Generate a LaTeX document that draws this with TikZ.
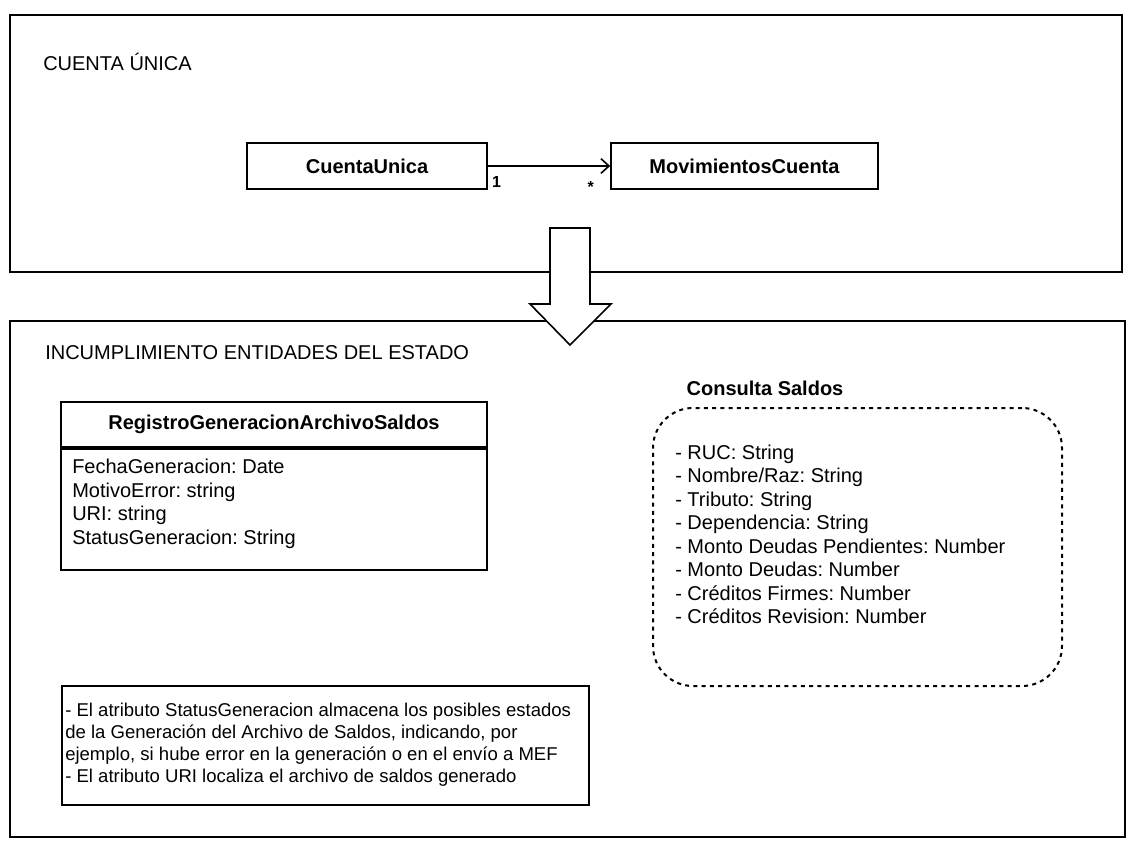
\documentclass[tikz,border=0pt]{standalone}
\usepackage{fontspec}
\setmainfont{Liberation Sans}
\usetikzlibrary{arrows.meta}
\frenchspacing
\tikzset{
  frame/.style={draw=black, line width=1.1pt, inner sep=0pt, fill=none},
  classbox/.style={draw=black, line width=1.3pt, inner sep=0pt, font=\fontsize{15}{17.6}\selectfont\bfseries},
  attrs/.style={inner sep=0pt, align=left, anchor=west, font=\fontsize{15}{17.6}\selectfont},
  titletext/.style={inner sep=0pt, anchor=west, font=\fontsize{15}{18}\selectfont},
  multlabel/.style={inner sep=0pt, font=\fontsize{12}{14}\selectfont\bfseries},
  assoc/.style={draw=black, line width=1.2pt, -{Straight Barb[length=6pt,width=11pt,line width=1.2pt]}},
  dashbox/.style={draw=black, line width=1.5pt, dash pattern=on 3pt off 3.2pt, rounded corners=30pt, inner sep=0pt},
  notebox/.style={draw=black, line width=1.1pt, inner sep=0pt},
  notetext/.style={inner sep=0pt, align=left, anchor=west, font=\fontsize{13.9}{16.5}\selectfont},
  blockarrow/.style={draw=black, line width=1.2pt, fill=white, line join=miter},
}
\begin{document}
\begin{tikzpicture}[x=0.75pt, y=-0.75pt]
\useasboundingbox (0,0) rectangle (1128,842);
\fill[white] (0,0) rectangle (1128,842);

% frames
\node[frame, minimum width=834pt, minimum height=192.75pt] (top) at (566,143.5) {};
\node[frame, minimum width=836.25pt, minimum height=387pt] (bottom) at (567.5,579) {};

% upper section
\node[titletext] (t1) at (43,62) {CUENTA ÚNICA};
\node[classbox, minimum width=180pt, minimum height=34.5pt] (cu) at (367,166) {CuentaUnica};
\node[classbox, minimum width=200.25pt, minimum height=34.5pt] (mc) at (744.5,166) {MovimientosCuenta};
\draw[assoc] (cu.east) -- (mc.west);
\node[multlabel, anchor=west] (m1) at ([xshift=3pt,yshift=-12pt]cu.east) {1};
\node[multlabel, anchor=east] (m2) at ([xshift=-12pt,yshift=-16pt]mc.west) {*};

% block arrow between sections
\draw[blockarrow] (550,228) -- (590,228) -- (590,304) -- (611,304) -- (570,345) -- (530,304) -- (550,304) -- cycle;

% lower section
\node[titletext] (t2) at (45,353) {INCUMPLIMIENTO ENTIDADES DEL ESTADO};

\node[classbox, minimum width=319.5pt, minimum height=33.75pt] (rgh) at (274,424.5) {RegistroGeneracionArchivoSaldos};
\node[classbox, minimum width=319.5pt, minimum height=90.75pt, anchor=north] (rgb) at (rgh.south) {};
\node[attrs] (rga) at (72,504) {FechaGeneracion: Date\\MotivoError: string\\URI: string\\StatusGeneracion: String};

\node[inner sep=0pt, font=\fontsize{15}{18}\selectfont\bfseries] (cst) at (765,388) {Consulta Saldos};
\node[dashbox, minimum width=306.75pt, minimum height=208.5pt] (cs) at (857.5,547) {};
\node[attrs] (csa) at (675,534.5) {- RUC: String\\- Nombre/Raz: String\\- Tributo: String\\- Dependencia: String\\- Monto Deudas Pendientes: Number\\- Monto Deudas: Number\\- Créditos Firmes: Number\\- Créditos Revision: Number};

\node[notebox, minimum width=395.25pt, minimum height=89.25pt] (nb) at (325.5,745.5) {};
\node[notetext] (nt) at (65,745) {- El atributo StatusGeneracion almacena los posibles estados\\de la Generación del Archivo de Saldos, indicando, por\\ejemplo, si hube error en la generación o en el envío a MEF\\- El atributo URI localiza el archivo de saldos generado};
\end{tikzpicture}
\end{document}
